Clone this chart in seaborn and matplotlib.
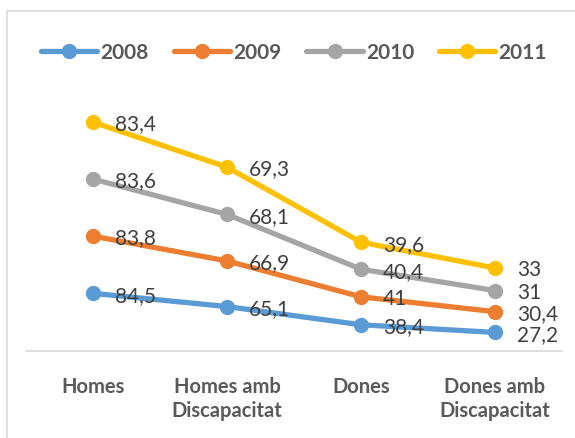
import numpy as np
import pandas as pd
import matplotlib.pyplot as plt
from matplotlib.patches import Rectangle
import seaborn as sns

categories = ['Homes', 'Homes amb\nDiscapacitat', 'Dones', 'Dones amb\nDiscapacitat']
years = ['2008', '2009', '2010', '2011']
v2008 = [84.5, 65.1, 38.4, 27.2]
v2009 = [83.8, 66.9, 41, 30.4]
v2010 = [83.6, 68.1, 40.4, 31]
v2011 = [83.4, 69.3, 39.6, 33]
colors = ['#5B9BD5', '#ED7D31', '#A5A5A5', '#FFC000']

sns.set_theme(style='white')
plt.rcParams['font.family'] = ['Lato', 'DejaVu Sans']

# stacked line chart (excel style): each line sits on top of the previous ones
vals = np.array([v2008, v2009, v2010, v2011])
stacked = np.cumsum(vals, axis=0)
rows = []
for i, y in enumerate(years):
    for j, c in enumerate(categories):
        rows.append({'cat': c, 'year': y, 'val': vals[i, j], 'stack': stacked[i, j]})
df = pd.DataFrame(rows)

fig = plt.figure(figsize=(5.75, 4.39), dpi=100)
ax = fig.add_axes([26/575, (439-352)/439, 536/575, 273/439])

sns.lineplot(data=df, x='cat', y='stack', hue='year', palette=colors, marker='o',
             markersize=11, markeredgewidth=0, linewidth=3.8, sort=False, ax=ax)

for _, r in df.iterrows():
    ax.annotate(f"{r['val']:g}".replace('.', ','), (categories.index(r['cat']), r['stack']),
                xytext=(16, -1), textcoords='offset points', ha='left', va='center',
                fontsize=15, color='#404040')

ax.set_xlim(-0.5, 3.5)
ax.set_ylim(0, 400)
ax.set_xlabel('')
ax.set_ylabel('')
ax.set_yticks([])
for s in ['top', 'right', 'left']:
    ax.spines[s].set_visible(False)
ax.spines['bottom'].set_color('#D9D9D9')
ax.spines['bottom'].set_linewidth(1.2)
ax.tick_params(axis='x', length=0, pad=18)
for t in ax.get_xticklabels():
    t.set_fontsize(14.5)
    t.set_fontweight('bold')
    t.set_color('#595959')
    t.set_linespacing(1.25)

leg = ax.legend(loc='upper center', bbox_to_anchor=(0.5, 1.2), ncol=4, frameon=False,
                handlelength=2.7, handletextpad=0.15, columnspacing=1.2,
                prop={'weight': 'bold', 'size': 15})
for t in leg.get_texts():
    t.set_color('#595959')

fig.add_artist(Rectangle((7/575, -0.1), 1.2, (439-12)/439 + 0.1, transform=fig.transFigure,
                         fill=False, edgecolor='#D9D9D9', linewidth=1.2))

fig.savefig('out.png', dpi=100)
